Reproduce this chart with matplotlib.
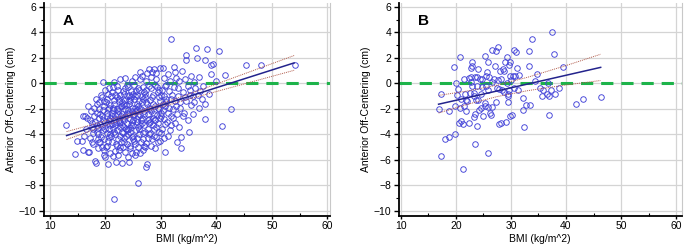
import matplotlib
matplotlib.use("Agg")
import matplotlib.pyplot as plt
from matplotlib.ticker import MultipleLocator

plt.rcParams['font.family'] = ['Liberation Sans', 'DejaVu Sans']

# ---- panel A data (BMI vs anterior off-centering) ----
bmi_a = [
    12.9, 14.5, 14.9, 15.7, 15.9, 16.0, 16.4, 16.7, 16.8, 16.9, 16.5, 16.2,
    17.1, 17.3, 17.5, 17.7, 17.4, 17.8, 17.9, 17.6, 17.2, 17.9, 17.5, 17.8,
    18.1, 18.3, 18.2, 18.4, 18.5, 18.6, 18.7, 18.8, 18.9, 18.3, 18.5, 18.7, 18.9, 18.4, 18.6, 18.8,
    19.0, 19.1, 19.2, 19.3, 19.4, 19.5, 19.6, 19.6, 19.7, 19.8, 19.9, 19.0, 19.2, 19.4, 19.5, 19.7, 19.8, 19.9, 19.3, 19.8,
    20.0, 20.1, 20.2, 20.3, 20.4, 20.5, 20.5, 20.6, 20.7, 20.8, 20.9, 20.0, 20.2, 20.3, 20.4, 20.6, 20.7, 20.8, 20.9, 20.1, 20.4, 20.6, 20.8, 20.3,
    21.0, 21.1, 21.2, 21.3, 21.4, 21.5, 21.5, 21.6, 21.7, 21.8, 21.9, 21.0, 21.2, 21.3, 21.4, 21.6, 21.7, 21.8, 21.9, 21.1, 21.3, 21.5, 21.7, 21.9, 21.2, 21.6,
    22.0, 22.1, 22.2, 22.3, 22.4, 22.5, 22.5, 22.6, 22.7, 22.8, 22.9, 22.0, 22.1, 22.3, 22.4, 22.6, 22.7, 22.8, 22.9, 22.2, 22.4, 22.6, 22.8, 22.0, 22.3, 22.5, 22.7, 22.9,
    23.0, 23.1, 23.2, 23.3, 23.4, 23.5, 23.5, 23.6, 23.7, 23.8, 23.9, 23.0, 23.1, 23.3, 23.4, 23.6, 23.7, 23.8, 23.9, 23.2, 23.4, 23.6, 23.8, 23.0, 23.3, 23.5, 23.7, 23.9,
    24.0, 24.1, 24.2, 24.3, 24.4, 24.5, 24.5, 24.6, 24.7, 24.8, 24.9, 24.0, 24.1, 24.3, 24.4, 24.6, 24.7, 24.8, 24.9, 24.2, 24.4, 24.6, 24.8, 24.0, 24.3, 24.5, 24.7, 24.9,
    25.0, 25.1, 25.2, 25.3, 25.4, 25.5, 25.5, 25.6, 25.7, 25.8, 25.8, 25.9, 25.0, 25.1, 25.3, 25.4, 25.6, 25.7, 25.9, 25.2, 25.4, 25.6, 25.8, 25.0, 25.3, 25.5, 25.7, 25.9,
    26.0, 26.1, 26.2, 26.3, 26.4, 26.5, 26.6, 26.7, 26.8, 26.9, 26.0, 26.1, 26.3, 26.4, 26.6, 26.7, 26.9, 26.2, 26.5, 26.8, 26.0, 26.3, 26.7, 26.9, 26.4, 26.6,
    27.0, 27.1, 27.2, 27.3, 27.4, 27.5, 27.5, 27.6, 27.7, 27.8, 27.9, 27.0, 27.2, 27.3, 27.4, 27.6, 27.7, 27.8, 27.9, 27.1, 27.5, 27.8, 27.3, 27.9,
    28.0, 28.1, 28.2, 28.3, 28.4, 28.5, 28.6, 28.7, 28.8, 28.9, 28.0, 28.2, 28.3, 28.5, 28.6, 28.8, 28.9, 28.1, 28.4, 28.7, 28.4, 28.9,
    29.0, 29.1, 29.2, 29.3, 29.4, 29.5, 29.6, 29.7, 29.8, 29.9, 29.0, 29.2, 29.3, 29.5, 29.6, 29.8, 29.9, 29.1, 29.4, 29.7,
    30.0, 30.1, 30.2, 30.3, 30.4, 30.5, 30.6, 30.7, 30.8, 30.9, 30.0, 30.2, 30.4, 30.5, 30.7, 30.8, 30.1, 30.6,
    31.0, 31.1, 31.2, 31.3, 31.5, 31.6, 31.8, 31.8, 31.9, 31.0, 31.3, 31.5, 31.7, 31.9,
    32.0, 32.2, 32.3, 32.5, 32.6, 32.7, 32.9, 32.1, 32.4, 32.8, 32.5, 32.9,
    33.0, 33.2, 33.3, 33.5, 33.6, 33.7, 33.8, 33.9, 33.1, 33.4,
    34.0, 34.2, 34.4, 34.5, 34.5, 34.6, 34.8, 34.9, 34.3,
    35.1, 35.2, 35.4, 35.5, 35.7, 35.8, 35.9, 35.3,
    36.0, 36.2, 36.4, 36.5, 36.6, 36.8, 36.9,
    37.1, 37.4, 37.6, 37.9, 38.0, 38.0, 38.3,
    38.6, 39.0, 39.3, 39.0, 40.0, 40.4, 41.0, 41.6, 42.6, 45.4, 48.0, 54.1,
]
offset_a = [
    -3.3, -5.55, -4.5, -4.55, -5.2, -2.55, -2.6, -2.75, -1.75, -5.35, -3.6, -4.1,
    -5.4, -2.9, -3.4, -4.8, -2.2, -3.9, -1.9, -3.1, -4.3, -2.6, -4.6, -3.6,
    -6.1, -6.25, -3.0, -2.3, -1.6, -4.0, -3.5, -2.7, -4.6, -1.2, -3.3, -5.1, -2.0, -3.8, -4.4, -1.5,
    -3.2, -2.4, -4.2, -1.1, -5.0, -2.9, 0.1, -3.7, -1.8, -5.6, -5.75, -4.6, -0.9, -3.4, -2.1, -4.4, -1.4, -3.0, -2.6, -5.2,
    -3.6, -1.5, -2.3, -4.9, -0.8, -6.35, -3.1, -1.9, -4.2, -2.7, -5.5, -0.5, -3.9, -1.2, -4.5, -2.9, -0.4, -3.3, -1.7, -5.0, -2.0, -3.6, -4.0, -2.6,
    -1.0, -3.2, -4.6, -2.1, -0.3, -9.1, -3.8, -1.6, -5.3, -2.5, -6.15, -4.1, -0.7, -3.5, -1.9, -2.8, -4.0, -0.9, -3.0, -2.3, -5.7, -1.3, -3.3, -4.8, -2.6, 0.1,
    -2.0, -3.7, -0.5, -4.4, -1.4, -5.2, -2.9, 0.3, -3.4, -1.8, -6.25, -4.9, -1.1, -2.4, -3.1, -4.1, -0.9, -2.6, -3.8, -5.6, -1.9, -3.0, -4.6, -0.2, -2.2, -1.2, -5.0, -1.5,
    -3.3, -0.6, -2.7, -4.3, -1.6, -5.4, -2.0, 0.4, -3.6, -1.0, -4.8, -2.4, -3.9, -0.8, -2.9, -1.3, -4.1, -2.3, -0.1, -5.0, -3.4, -2.6, -3.1, -1.8, -4.6, -0.4, -1.7, -3.7,
    -2.1, -4.0, -0.9, -6.2, -2.8, -1.4, -5.1, -3.3, 0.2, -1.9, -4.4, -3.6, -0.3, -2.4, -4.9, -1.1, -3.0, -5.5, -2.5, -1.6, -3.8, -0.6, -2.2, -5.8, -1.3, -3.5, -4.2, -0.8,
    -2.9, -1.2, -4.5, 0.5, -2.2, -3.7, -5.4, -1.6, -3.0, -7.8, -0.4, -2.6, -4.1, -0.1, -1.9, -4.8, -2.8, -0.9, -3.4, -2.4, -1.0, -4.3, -1.8, -3.3, -5.6, -0.6, -2.1, -5.0,
    -1.4, -3.6, 0.9, -2.5, -4.6, -1.0, -3.1, -5.2, -0.3, -2.2, -4.0, -1.9, 0.3, -2.9, -1.5, -3.9, -0.7, -5.5, -2.7, -4.4, -0.5, -3.3, -1.2, -4.9, -2.0, 0.6,
    -2.4, -0.8, -3.8, -6.55, -1.5, -6.35, 0.8, -2.9, -4.3, -0.2, -1.9, -3.3, -1.1, -4.7, 0.2, -2.4, -3.6, 1.1, -2.8, -5.0, -1.6, -4.0, -0.5, -3.1,
    -1.3, -3.0, 0.5, -2.2, -4.4, -0.9, -2.7, -3.6, 1.1, -5.05, -2.0, -4.9, -0.4, -3.3, -1.6, -2.4, -0.1, -3.9, -1.1, -4.1, 0.9, -2.9,
    -1.8, -3.4, 0.3, -2.5, -4.6, -0.7, -2.0, -3.8, 1.2, -1.4, -2.9, -4.2, -0.3, -3.1, -1.1, -2.7, -4.5, 0.8, -1.9, -0.5,
    -2.3, -0.9, -3.6, 1.2, -1.6, -2.8, -4.3, -0.2, -5.35, -1.2, -3.9, -0.5, -2.1, 0.4, -3.2, -1.8, -2.6, -1.0,
    -1.5, -3.0, 0.7, -2.3, -0.6, -3.7, 3.5, -1.2, -2.6, -0.1, -4.1, -1.9, 0.2, -3.3,
    -0.9, -2.0, 1.3, -3.1, -1.4, 0.4, -4.6, -2.7, -0.3, -1.8, 0.9, -2.4,
    -1.0, -3.4, 0.2, -1.9, -4.25, -5.1, 1.0, -2.6, -0.4, -1.5,
    -0.7, -2.3, 0.3, 2.2, 1.85, -1.4, -0.2, -2.9, -1.1,
    -3.85, -0.5, -1.7, 0.6, -1.0, -2.4, 0.1, -0.9,
    -1.5, -0.4, 2.8, 2.0, -0.9, -1.9, 0.5,
    -0.6, -1.2, -0.2, -1.6, -2.8, 1.8, 2.7,
    -0.8, 1.45, 1.5, 0.7, 0.2, 2.5, -3.35, 0.65, -2.0, 1.4, 1.45, 1.45,
]

# regression line and 95% confidence band, panel A
fit_x_a = [13.0, 20.0, 27.0, 35.0, 45.0, 54.0]
fit_y_a = [-4.10, -3.13, -2.15, -1.04, 0.35, 1.60]
ci_hi_a = [-3.79, -2.95, -2.05, -0.85, 0.74, 2.18]
ci_lo_a = [-4.41, -3.31, -2.25, -1.24, -0.05, 1.02]

# ---- panel B data ----
bmi_b = [
    16.85, 17.3, 17.3, 18.0, 18.7, 18.8, 19.6, 19.8, 19.9, 20.0,
    20.2, 20.4, 20.6, 20.7, 20.8, 21.0, 21.0, 21.2, 21.3, 21.5,
    21.5, 21.7, 21.8, 21.9, 22.1, 22.3, 22.4, 22.5, 22.7, 22.8,
    22.8, 23.0, 23.0, 23.0, 23.2, 23.2, 23.3, 23.4, 23.4, 23.5,
    23.6, 23.8, 23.9, 23.9, 24.1, 24.1, 24.2, 24.4, 24.5, 24.6,
    24.7, 24.8, 25.0, 25.2, 25.3, 25.3, 25.4, 25.5, 25.6, 25.8,
    25.8, 25.9, 25.9, 26.1, 26.2, 26.4, 26.5, 26.5, 26.6, 26.9,
    27.1, 27.2, 27.3, 27.5, 27.6, 27.7, 27.8, 27.9, 28.1, 28.2,
    28.2, 28.4, 28.5, 28.7, 28.8, 29.0, 29.1, 29.2, 29.3, 29.4,
    29.5, 29.5, 29.6, 29.7, 29.8, 29.8, 29.9, 30.0, 30.2, 30.4,
    30.5, 30.6, 30.7, 31.0, 31.1, 31.3, 31.5, 32.1, 32.2, 32.4,
    32.7, 33.2, 33.3, 33.5, 33.8, 34.4, 34.7, 35.2, 35.6, 35.9,
    36.5, 36.7, 36.9, 37.0, 37.3, 37.5, 37.9, 38.0, 38.7, 39.5,
    41.8, 43.0, 46.3,
]
offset_b = [
    -1.98, -0.85, -5.68, -4.4, -2.2, -4.2, 1.3, -3.97, -1.77, 0.04,
    -0.95, -0.46, -3.1, -1.9, 2.1, -2.95, -1.2, -3.2, -6.75, -1.8,
    0.33, -0.85, -2.2, -1.3, -1.4, 0.38, -3.1, -0.77, 1.2, 0.5,
    0.1, 1.7, -0.2, 1.33, -0.77, -2.66, -0.98, -2.4, -4.76, 0.49,
    -1.3, -3.35, -0.2, 0.46, 1.15, -1.3, -2.1, 0.3, -0.85, -1.9,
    -0.3, 0.33, -2.6, -1.77, 2.17, -1.56, -0.25, 0.6, 0.86, 1.64,
    -0.5, -1.87, -5.45, 0.49, -2.35, -2.48, 2.6, 0.07, -1.82, 0.36,
    1.33, -1.43, 2.5, -0.4, 0.23, 2.82, -3.2, -0.46, 0.93, 0.33,
    -3.13, -0.56, 1.1, -0.72, 1.0, 1.64, -3.0, 2.06, 0.0, -1.03,
    -1.43, -0.85, 1.46, -0.5, -2.6, 0.6, 1.64, 0.28, -2.48, 0.6,
    2.6, -0.4, 0.6, 2.43, 1.2, -0.56, 0.67, -1.17, -2.07, -3.4,
    -1.72, 2.5, 1.38, -1.72, 3.48, 0.16, 0.75, -0.4, -1.03, -0.56,
    -0.85, 0.04, -1.03, -2.48, -0.56, 4.0, 2.33, -0.85, -0.4, 1.25,
    -1.6, -1.22, -1.1,
]

fit_x_b = [16.85, 22.0, 27.5, 33.0, 40.0, 46.3]
fit_y_b = [-1.64, -1.14, -0.60, -0.06, 0.63, 1.25]
ci_hi_b = [-0.95, -0.61, -0.15, 0.47, 1.39, 2.28]
ci_lo_b = [-2.33, -1.66, -1.04, -0.58, -0.13, 0.22]

assert len(bmi_a) == len(offset_a)
assert len(bmi_b) == len(offset_b)

panels = [
    ("A", bmi_a, offset_a, fit_x_a, fit_y_a, ci_hi_a, ci_lo_a, [0.064, 0.133, 0.418, 0.855], (8.9, 60.5), 13.3),
    ("B", bmi_b, offset_b, fit_x_b, fit_y_b, ci_hi_b, ci_lo_b, [0.582, 0.133, 0.413, 0.855], (9.6, 61.0), 14.1),
]

fig = plt.figure(figsize=(6.85, 2.49), dpi=100)

for letter, xs, ys, fx, fy, hi, lo, pos, xlim, letter_x in panels:
    ax = fig.add_axes(pos)
    ax.set_xlim(*xlim)
    ax.set_ylim(-10.4, 6.3)
    ax.xaxis.set_major_locator(MultipleLocator(10))
    ax.xaxis.set_minor_locator(MultipleLocator(5))
    ax.yaxis.set_major_locator(MultipleLocator(2))
    ax.yaxis.set_minor_locator(MultipleLocator(1))
    ax.grid(True, which='major', color='#d4d4d4', linewidth=0.9)
    ax.set_axisbelow(True)

    ax.axhline(0, color='#1db34a', linewidth=2.2, dashes=(4, 2.6), zorder=2)
    ax.plot(xs, ys, linestyle='none', marker='o', markersize=4.0,
            markerfacecolor='none', markeredgecolor='#4242d8',
            markeredgewidth=0.65, zorder=3)
    ax.plot(fx, fy, color='#23238c', linewidth=1.1, zorder=4)
    ax.plot(fx, hi, color='#b05a4a', linewidth=0.7, linestyle=(0, (1, 1)), zorder=4)
    ax.plot(fx, lo, color='#b05a4a', linewidth=0.7, linestyle=(0, (1, 1)), zorder=4)

    ax.text(letter_x, 4.85, letter, fontsize=11, fontweight='bold',
            ha='center', va='center')

    ax.spines['top'].set_visible(False)
    ax.spines['right'].set_color('#c8c8c8')
    ax.spines['left'].set_linewidth(1.3)
    ax.spines['bottom'].set_linewidth(1.3)
    ax.tick_params(axis='both', which='major', labelsize=7.5, width=1)
    ax.tick_params(axis='y', which='major', length=3.5, pad=2)
    ax.tick_params(axis='y', which='minor', length=2.5, width=0.8)
    ax.tick_params(axis='x', which='major', length=2, pad=1.5)
    ax.tick_params(axis='x', which='minor', length=2, width=0.8, direction='in')
    ax.set_xlabel("BMI (kg/m^2)", fontsize=7.5, labelpad=2)
    ax.set_ylabel("Anterior Off-Centering (cm)", fontsize=7.5, labelpad=2)

fig.savefig("out.png", dpi=100)
